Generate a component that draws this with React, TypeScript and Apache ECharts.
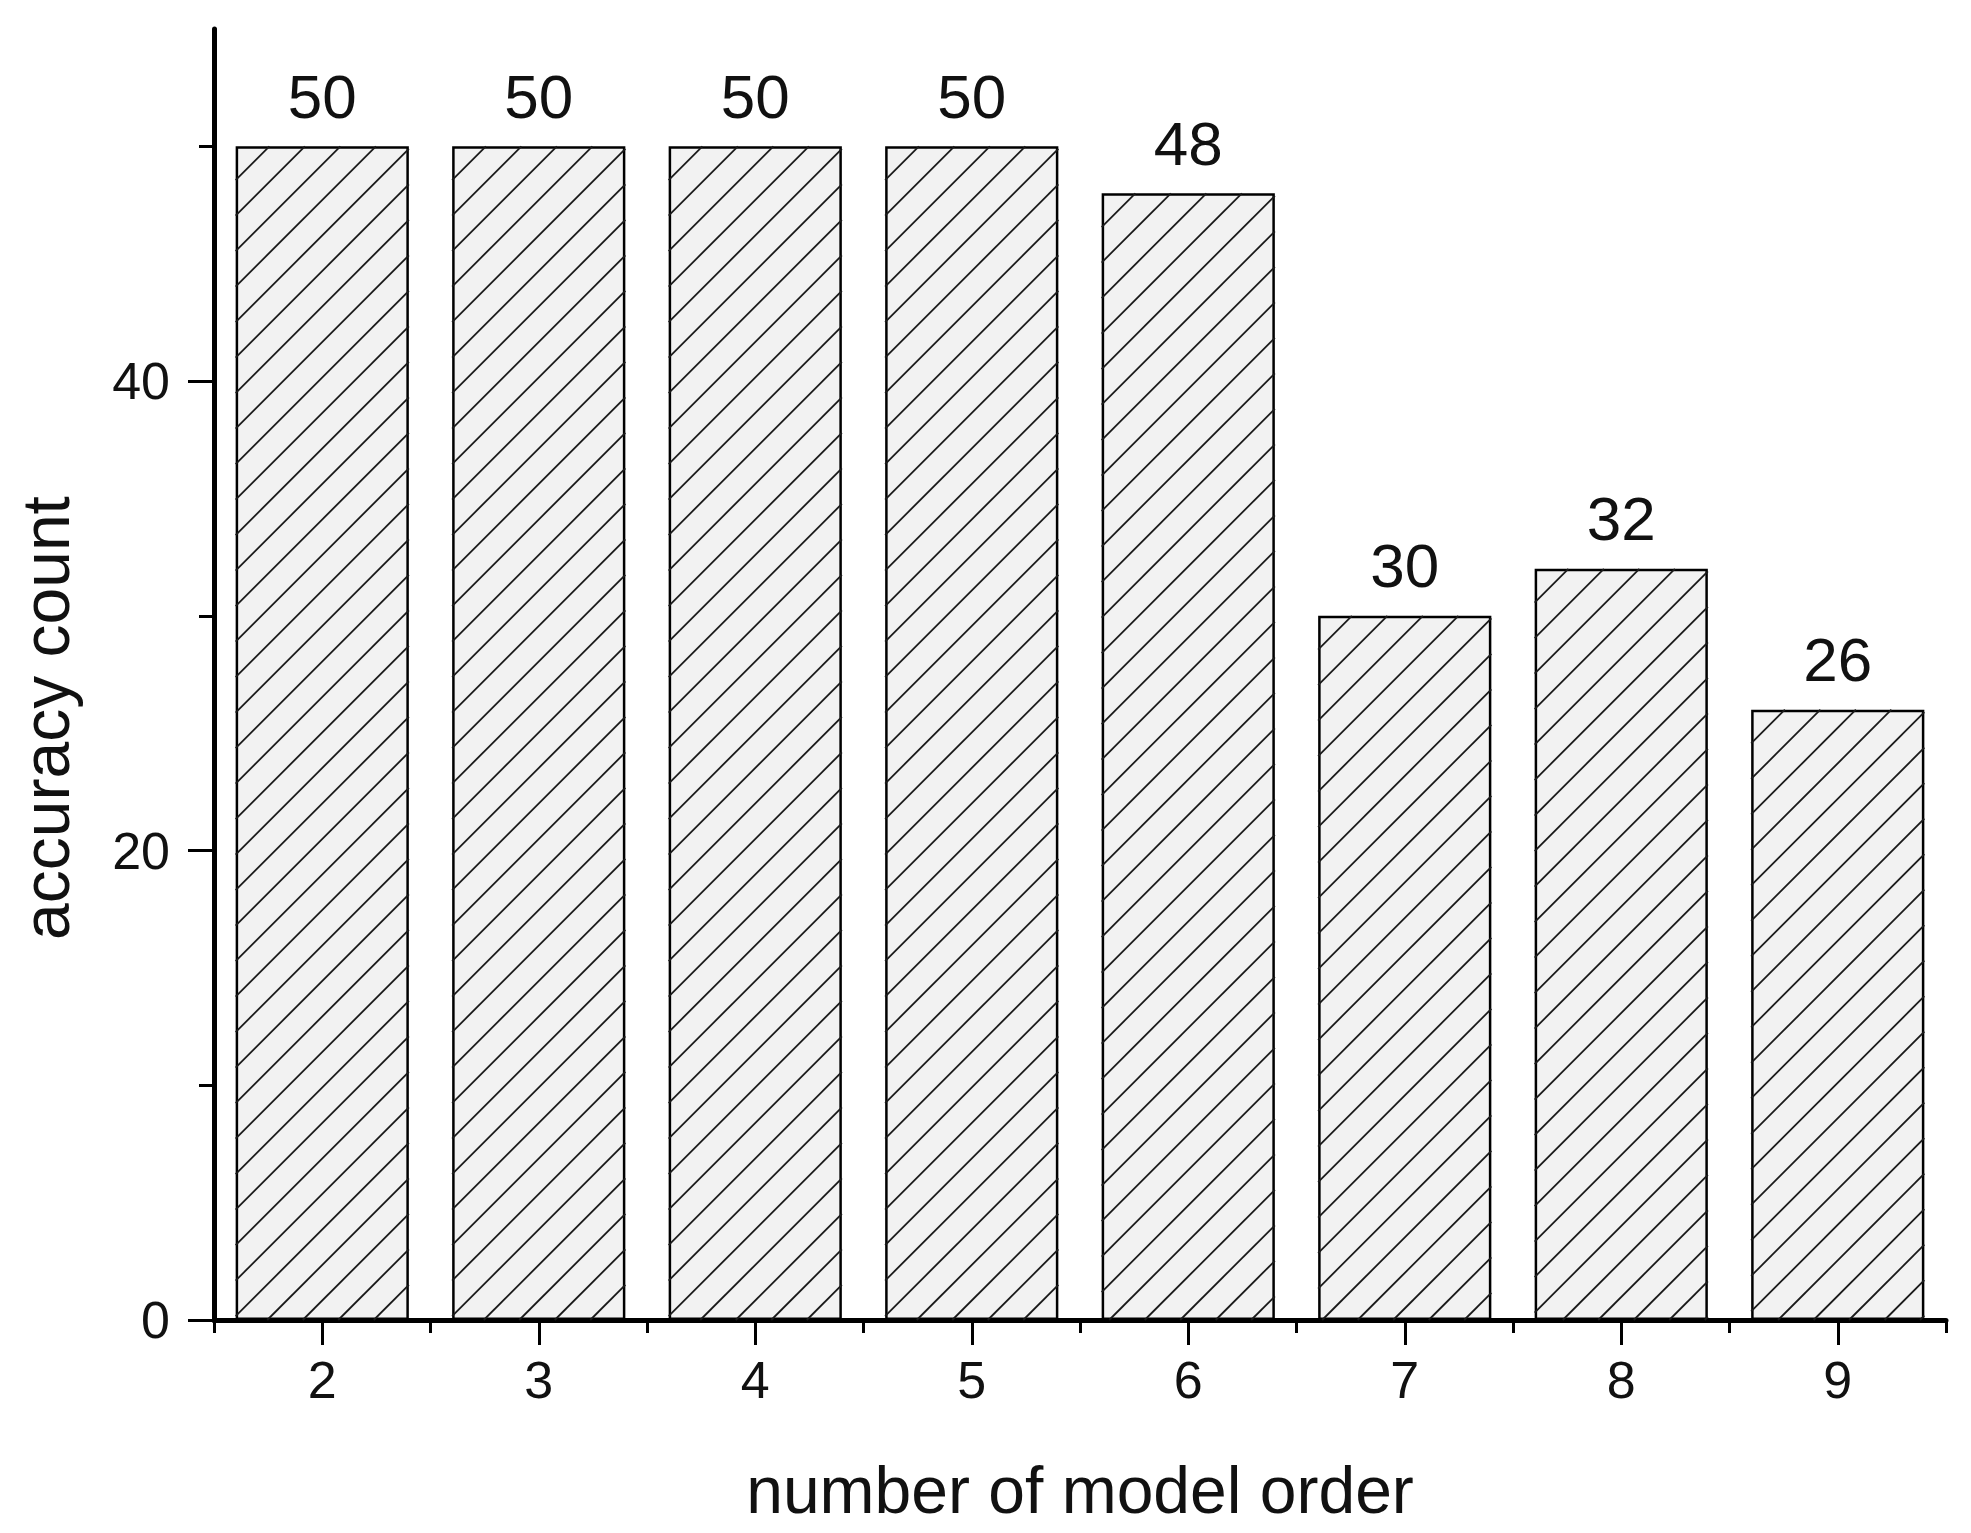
import React, { useEffect, useRef } from "react";
import * as echarts from "echarts";

const categories = ["2", "3", "4", "5", "6", "7", "8", "9"];
const accuracyCounts = [50, 50, 50, 50, 48, 30, 32, 26];
const yMajorTicks = [0, 20, 40];
const yMinorTicks = [10, 30, 50];
const yMax = 55;
const xTitle = "number of model order";
const yTitle = "accuracy count";

const FONT = "'Liberation Sans', Arial, sans-serif";
const BAR_RATIO = 0.8;
const HATCH_STEP = 35.5;

export default function App() {
  const ref = useRef<HTMLDivElement>(null);
  useEffect(() => {
    document.body.style.margin = "0";
    const chart = echarts.init(ref.current!, null, { renderer: "svg" });
    const axisLineStyle = { color: "#000", width: 5 };

    const hatchRender = (params: any, api: any) => {
      const xi = api.value(0);
      const yv = api.value(1);
      const top = api.coord([xi, yv]);
      const bottom = api.coord([xi, 0]);
      const bw = api.size([1, 0])[0] * BAR_RATIO;
      const x0 = top[0] - bw / 2;
      const x1 = top[0] + bw / 2;
      const y0 = top[1];
      const y1 = bottom[1];
      const children: any[] = [];
      const start = x0 + y0;
      for (let c = start + HATCH_STEP * 0.95; c < x1 + y1; c += HATCH_STEP) {
        const xa = Math.max(x0, c - y1);
        const xb = Math.min(x1, c - y0);
        if (xb - xa < 1) continue;
        children.push({
          type: "line",
          shape: { x1: xa, y1: c - xa, x2: xb, y2: c - xb },
          style: { stroke: "#1a1a1a", lineWidth: 1.8 },
          silent: true,
        });
      }
      return { type: "group", children };
    };

    chart.setOption({
      animation: false,
      backgroundColor: "#fff",
      textStyle: { fontFamily: FONT },
      grid: { left: 214, right: 25, top: 29, bottom: 213 },
      xAxis: [
        {
          type: "category",
          data: categories,
          position: "bottom",
          axisLine: { show: true, lineStyle: axisLineStyle },
          axisTick: { show: true, length: 13, lineStyle: { color: "#000", width: 3 } },
          axisLabel: { margin: 34, fontSize: 52, color: "#111", fontFamily: FONT },
          splitLine: { show: false },
        },
        {
          type: "category",
          data: categories,
          position: "bottom",
          axisLine: { show: false },
          axisTick: { show: true, alignWithLabel: true, length: 25, lineStyle: { color: "#000", width: 3 } },
          axisLabel: { show: false },
          splitLine: { show: false },
        },
      ],
      yAxis: [
        {
          type: "value",
          min: 0,
          max: yMax,
          position: "left",
          axisLine: { show: true, lineStyle: axisLineStyle },
          axisTick: { show: true, length: 26, customValues: yMajorTicks, lineStyle: { color: "#000", width: 3 } },
          axisLabel: { customValues: yMajorTicks, margin: 44, fontSize: 52, color: "#111", fontFamily: FONT },
          splitLine: { show: false },
        },
        {
          type: "value",
          min: 0,
          max: yMax,
          position: "left",
          axisLine: { show: false },
          axisTick: { show: true, length: 15, customValues: yMinorTicks, lineStyle: { color: "#000", width: 3 } },
          axisLabel: { show: false },
          splitLine: { show: false },
        },
      ],
      series: [
        {
          type: "bar",
          xAxisIndex: 0,
          yAxisIndex: 0,
          data: accuracyCounts,
          barWidth: BAR_RATIO * 100 + "%",
          z: 2,
          itemStyle: {
            color: "#f2f2f2",
            borderColor: "#000",
            borderWidth: 2.5,
          },
          label: {
            show: true,
            position: "top",
            distance: 19,
            fontSize: 62,
            color: "#111",
            fontFamily: FONT,
          },
        },
        {
          type: "custom",
          xAxisIndex: 0,
          yAxisIndex: 0,
          z: 3,
          silent: true,
          data: accuracyCounts.map((v, i) => [i, v]),
          renderItem: hatchRender,
        },
      ],
      graphic: [
        {
          type: "text",
          x: 46,
          y: 718,
          rotation: Math.PI / 2,
          style: {
            text: yTitle,
            fontSize: 66,
            fontFamily: FONT,
            fill: "#111",
            align: "center",
            verticalAlign: "middle",
          },
        },
        {
          type: "text",
          x: 1080,
          y: 1490,
          style: {
            text: xTitle,
            fontSize: 66,
            fontFamily: FONT,
            fill: "#111",
            align: "center",
            verticalAlign: "middle",
          },
        },
      ],
    });
    return () => chart.dispose();
  }, []);
  return <div ref={ref} style={{ width: 1971, height: 1533 }} />;
}
